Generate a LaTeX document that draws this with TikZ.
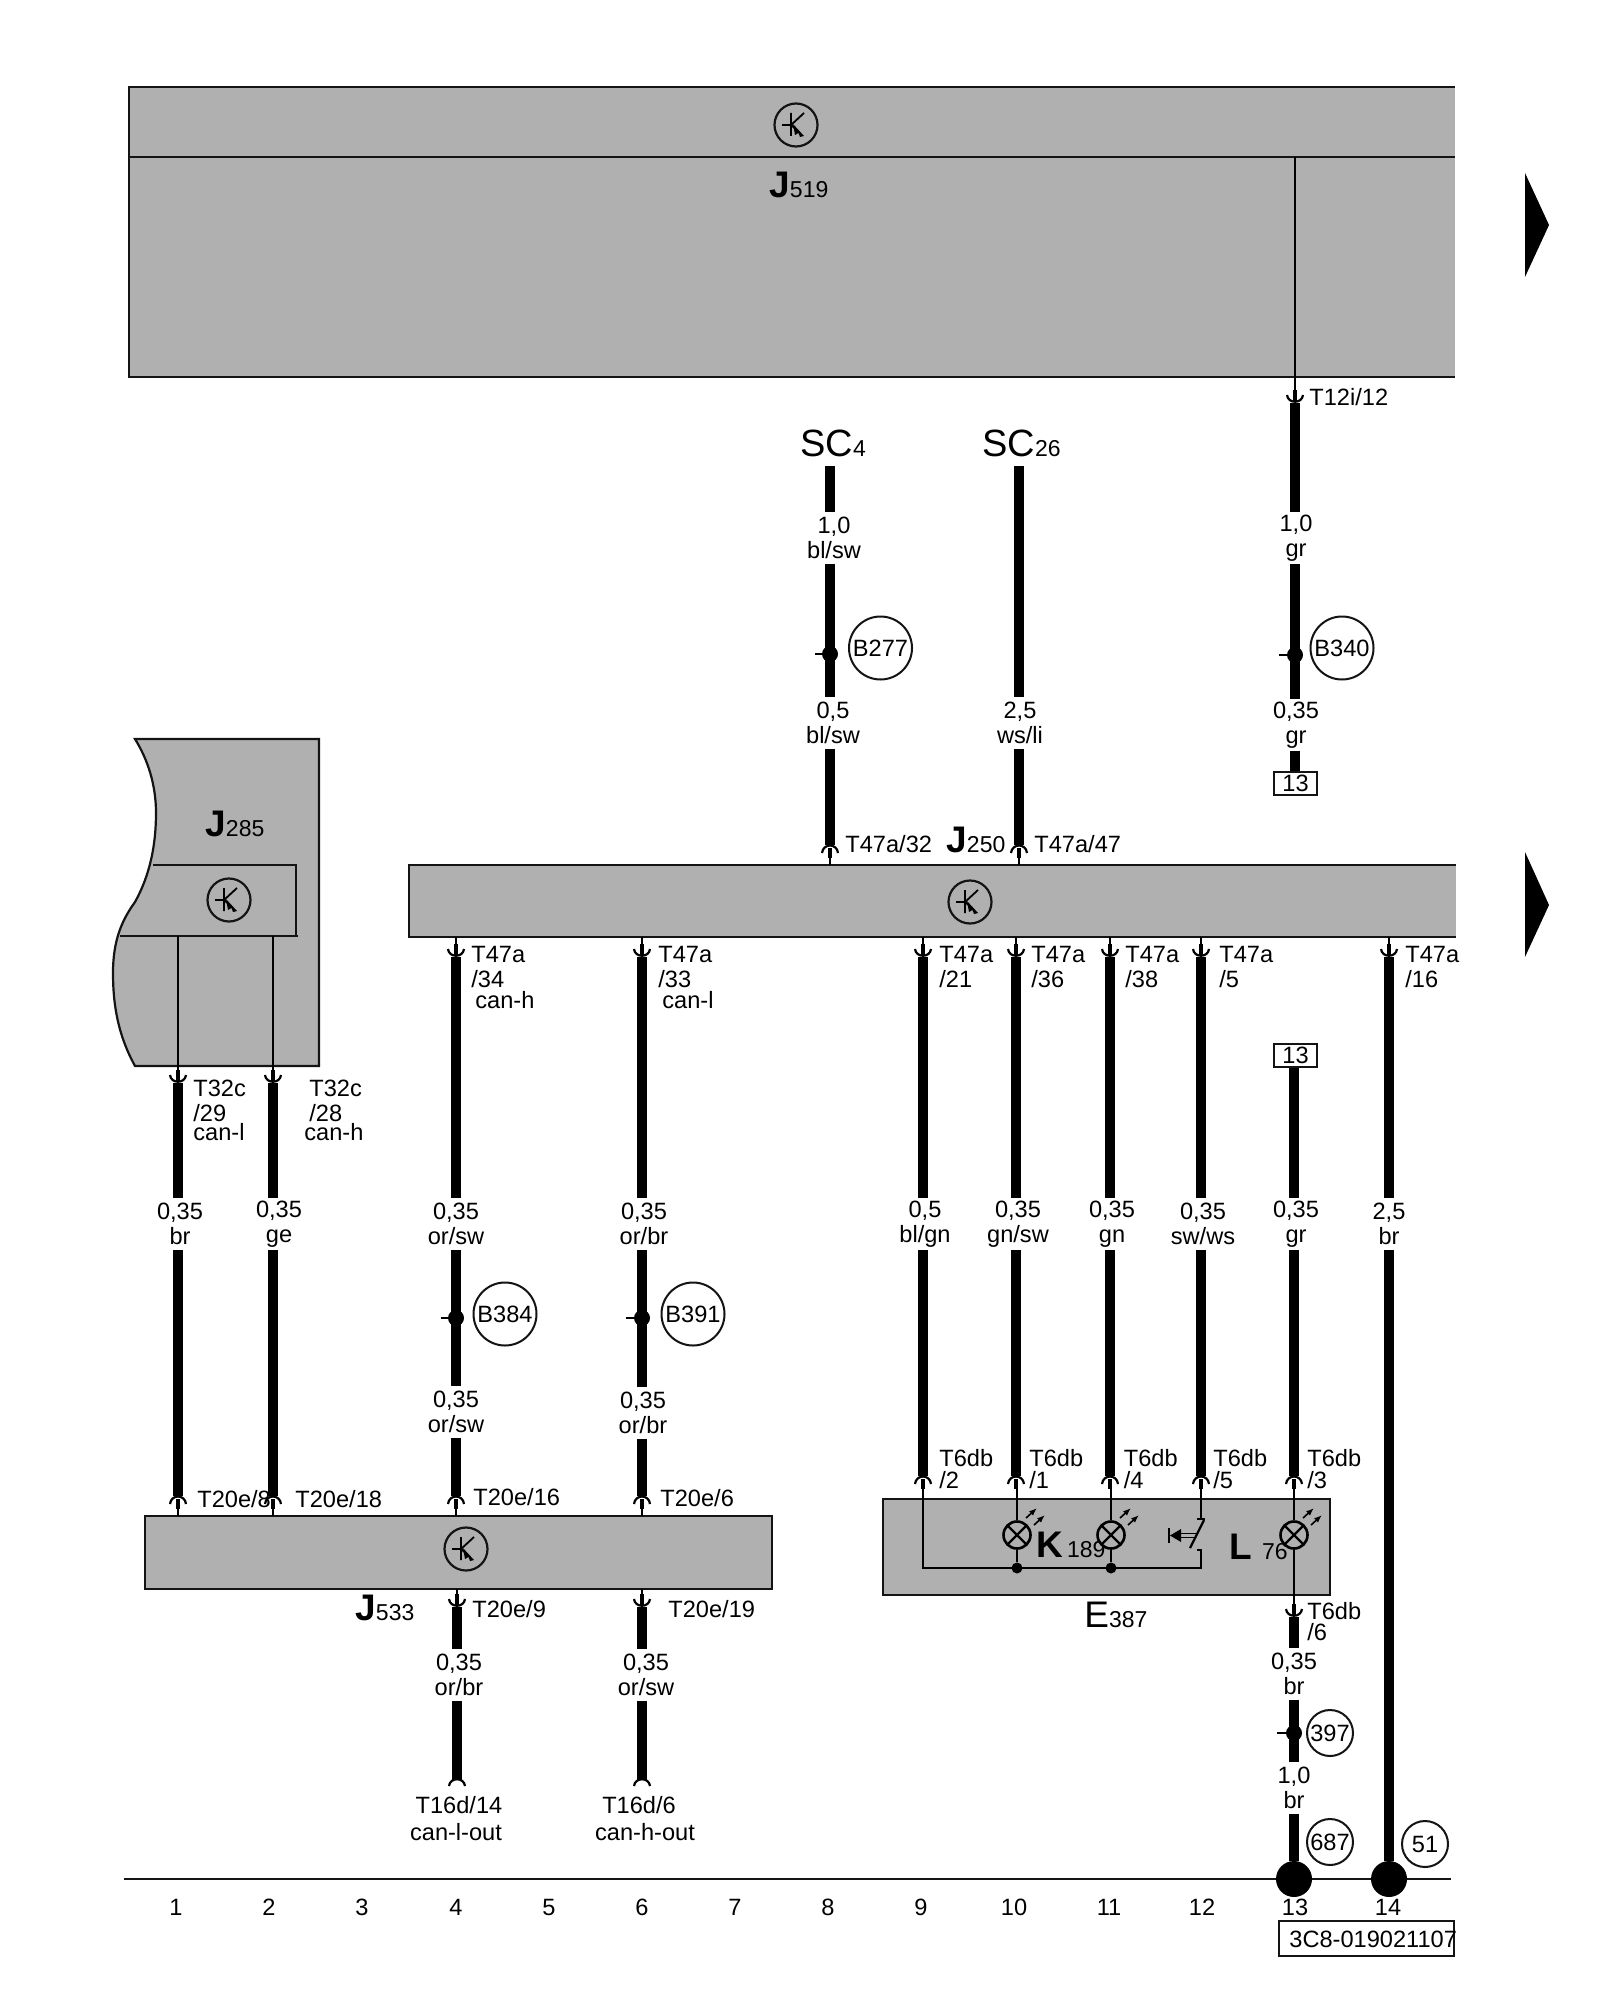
\documentclass[tikz,border=0pt]{standalone}
\usepackage{fontspec}
\setmainfont{Liberation Sans}
\definecolor{ecu}{RGB}{176,176,176}
\definecolor{ink}{RGB}{20,20,20}
\newcommand\fsmall{\fontsize{11.8}{12.5}\selectfont}
\newcommand\fbig{\fontsize{18.5}{18.5}\selectfont}
\newcommand\fsub{\fontsize{11.5}{11.5}\selectfont}
\tikzset{
  box/.style={fill=ecu,draw=ink,line width=1.1pt},
  wirethick/.style={line width=5pt,black,line cap=butt},
  wirethin/.style={line width=1pt,black},
  stem/.style={line width=2.2pt,black},
  cup/.style={line width=1.1pt,black},
  gauge/.style={inner sep=0pt,minimum height=25.5pt,align=center,font=\fsmall},
  lbl/.style={inner sep=0pt,anchor=west,text height=8.5pt,text depth=0pt,font=\fsmall},
  mid/.style={inner sep=0pt,anchor=center,text height=8.5pt,text depth=0pt,font=\fsmall},
  part/.style={inner sep=0pt,anchor=base west},
  ref/.style={circle,draw=ink,line width=1pt,inner sep=0pt},
  pin/.style={draw=ink,line width=1pt,inner sep=0pt,minimum width=21.5pt,minimum height=11.5pt,font=\fsmall},
  dot/.style={circle,fill=black,inner sep=0pt},
}
% terminal where a wire starts below a unit: thick wire begins at (#2,#3)
\newcommand\termdown[3]{\coordinate (#1) at (#2,#3);
  \begin{scope}[shift={(#2,#3)}]
    \draw[stem] (0,-13) -- (0,-2);
    \draw[cup] (-8,-8) .. controls (-7,1) and (7,1) .. (8,-8);
  \end{scope}}
% terminal where a wire ends above a unit: thick wire ends at (#2,#3)
\newcommand\termup[3]{\coordinate (#1) at (#2,#3);
  \begin{scope}[shift={(#2,#3)}]
    \draw[stem] (0,13) -- (0,3);
    \draw[cup] (-8,8) .. controls (-7,-2) and (7,-2) .. (8,8);
  \end{scope}}
% control unit symbol
\newcommand\unitsym[3]{\node[circle,draw=ink,line width=1.1pt,minimum size=21.5pt,inner sep=0pt] (#1) at (#2,#3) {};
  \begin{scope}[shift={(#2,#3)}]
    \draw[line width=.9pt,black] (-14,0) -- (-5,0) (-5,-12) -- (-5,11) (-5,0) -- (8,-12);
    \draw[line width=.9pt,black] (-5,0) -- (3,7);
    \fill[black] (-3,-1) -- (8,11) -- (4,12) -- (2.5,8) -- (-1,10) -- cycle;
  \end{scope}}
% bulb
\newcommand\bulb[3]{\node[circle,draw=black,line width=1.3pt,fill=ecu,minimum size=13.5pt,inner sep=0pt] (#1) at (#2,#3) {};
  \begin{scope}[shift={(#2,#3)}]
    \draw[line width=1.1pt,black] (-9,-9) -- (9,9) (-9,9) -- (9,-9);
    \draw[line width=.8pt,black,-{Latex[length=4pt,width=3pt]}] (9,-17) -- (20,-27);
    \draw[line width=.8pt,black,-{Latex[length=4pt,width=3pt]}] (17,-10) -- (28,-20);
  \end{scope}}
\usetikzlibrary{arrows.meta}
\begin{document}
\begin{tikzpicture}[x=0.5pt,y=-0.5pt]
\useasboundingbox (0,0) rectangle (1600,2000);
\fill[white] (0,0) rectangle (1600,2000);

%% J519
\fill[ecu] (129,87) rectangle (1455,377);
\draw[line width=1.1pt,ink] (1455,87) -- (129,87) -- (129,377) -- (1455,377) (129,157) -- (1455,157);
\coordinate (j519low) at (1295,377);
\coordinate (j519up) at (1295,157);
\unitsym{u519}{796}{125}
\node[part] (n519) at (769,198) {\fbig\bfseries J\fsub\mdseries 519};

%% page-turn marks
\fill[black] (1525,173) -- (1549,225) -- (1525,277) -- cycle;
\fill[black] (1525,852) -- (1549,905) -- (1525,957) -- cycle;

%% J285
\draw[box] (135,739) -- (319,739) -- (319,1066) -- (135,1066)
  .. controls (118,1035) and (113,1005) .. (113,973)
  .. controls (113,940) and (122,920) .. (135,902)
  .. controls (150,875) and (156,845) .. (156,813)
  .. controls (156,785) and (148,760) .. (135,739) -- cycle;
\draw[line width=1.1pt,ink] (153,865) -- (296,865) -- (296,936) (120,936) -- (298,936);
\unitsym{u285}{229}{900}
\node[part] (n285) at (205,836) {\fbig\bfseries J\fsub\mdseries 285};
\coordinate (a1) at (178,936);
\coordinate (a2) at (273,936);
\draw[wirethin] (a1) -- (178,1070);
\draw[wirethin] (a2) -- (273,1070);

%% J250
\node[box,minimum width=0pt,inner sep=0pt] (j250) at (932.5,901) {};
\fill[ecu] (409,865) rectangle (1456,937);
\draw[line width=1.1pt,ink] (1456,865) -- (409,865) -- (409,937) -- (1456,937);
\unitsym{u250}{970}{902}
\node[part] (n250) at (946,852) {\fbig\bfseries J\fsub\mdseries 250};

%% J533
\draw[box] (145,1516) rectangle (772,1589);
\unitsym{u533}{466}{1549}
\node[part] (n533) at (355,1620) {\fbig\bfseries J\fsub\mdseries 533};

%% E387
\draw[box] (883,1499) rectangle (1330,1595);
\node[part] (n387) at (1084,1627) {\fbig E\fsub 387};
\node[part] (k189) at (1036,1557) {\fbig\bfseries K\fsub\mdseries\hspace{2pt}189};
\node[part] (l76) at (1229,1559) {\fbig\bfseries L\fsub\mdseries\hspace{5pt}76};
\coordinate (s9) at (923,1499);
\coordinate (s10) at (1017,1499);
\coordinate (s11) at (1111,1499);
\coordinate (s12) at (1201,1499);
\coordinate (s13) at (1294,1499);
\coordinate (g9) at (923,1568);
\coordinate (g12) at (1201,1568);
\node[dot,minimum size=5.5pt] (d10) at (1017,1568) {};
\node[dot,minimum size=5.5pt] (d11) at (1111,1568) {};
\bulb{b10}{1017}{1535}
\bulb{b11}{1111}{1535}
\bulb{b13}{1294}{1535}
\draw[wirethin] (923,1486) -- (s9) -- (g9) -- (g12) -- (1201,1550) -- (1197,1550);
\draw[wirethin] (1017,1486) -- (b10) (b10) -- (d10);
\draw[wirethin] (1111,1486) -- (b11) (b11) -- (d11);
\draw[wirethin] (1201,1486) -- (1201,1519) (1197,1519) -- (1205,1519);
\draw[line width=1.1pt,black] (1204,1520) -- (1190,1548);
\draw[wirethin] (1294,1486) -- (b13) (b13) -- (1294,1610);
\draw[line width=.8pt,black] (1197,1533.5) -- (1178,1533.5) (1195,1537.5) -- (1178,1537.5);
\fill[black] (1170,1535.5) -- (1181,1529) -- (1181,1542) -- cycle;
\draw[line width=1pt,black] (1169,1528) -- (1169,1543);

%% wires from J519
\draw[wirethin] (j519up) -- (j519low) -- (1295,390);
\termdown{t12}{1295}{403}
\node[lbl] (l12) at (1309,397) {T12i/12};
\node[gauge] (g13a) at (1296,538) {1,0\\gr};
\node[gauge] (g13b) at (1296,725) {0,35\\gr};
\node[pin] (p13a) at (1295.5,783) {13};
\draw[wirethick] (t12) -- (t12 |- g13a.north);
\draw[wirethick] (t12 |- g13a.south) -- (t12 |- g13b.north);
\draw[wirethick] (t12 |- g13b.south) -- (t12 |- p13a.north);
\node[dot,minimum size=8pt] (d340) at (1295,655) {};
\draw[wirethin] (1279,655) -- (d340);
\node[ref,minimum size=31.5pt,font=\fsmall] (c340) at (1342,648) {B340};

%% SC4, SC26
\node[part] (sc4) at (800,457) {\fontsize{19}{19}\selectfont SC\fsub 4};
\node[part] (sc26) at (982,457) {\fontsize{19}{19}\selectfont SC\fsub 26};
\coordinate (sc4w) at (830,466);
\coordinate (sc26w) at (1019,466);
\node[gauge] (g8a) at (834,538) {1,0\\bl/sw};
\node[gauge] (g8b) at (833,723) {0,5\\bl/sw};
\node[gauge] (g10b) at (1020,723) {2,5\\ws/li};
\termup{t8}{830}{845}
\termup{t1019}{1019}{845}
\draw[wirethick] (sc4w) -- (sc4w |- g8a.north);
\draw[wirethick] (sc4w |- g8a.south) -- (sc4w |- g8b.north);
\draw[wirethick] (sc4w |- g8b.south) -- (t8);
\draw[wirethick] (sc26w) -- (sc26w |- g10b.north);
\draw[wirethick] (sc26w |- g10b.south) -- (t1019);
\draw[wirethin] (t8) ++(0,10) -- (830,865);
\draw[wirethin] (t1019) ++(0,10) -- (1019,865);
\node[dot,minimum size=8pt] (d277) at (830,654) {};
\draw[wirethin] (815,654) -- (d277);
\node[ref,minimum size=31.5pt,font=\fsmall] (c277) at (880.5,648) {B277};
\node[lbl] (l32) at (845,844) {T47a/32};
\node[lbl] (l47) at (1034,844) {T47a/47};

%% J285 wires
\termdown{t1}{178}{1083}
\termdown{t2}{273}{1083}
\node[lbl] (l1a) at (193,1088) {T32c};
\node[lbl] (l1b) at (193,1113) {/29};
\node[lbl] (l1c) at (193,1132) {can-l};
\node[lbl] (l2a) at (309,1088) {T32c};
\node[lbl] (l2b) at (309,1113) {/28};
\node[lbl] (l2c) at (304,1132) {can-h};
\node[gauge] (g1) at (180,1224) {0,35\\br};
\node[gauge] (g2) at (279,1224) {0,35\\ge};
\termup{b1}{178}{1496}
\termup{b2}{273}{1496}
\draw[wirethick] (t1) -- (t1 |- g1.north);
\draw[wirethick] (t1 |- g1.south) -- (b1);
\draw[wirethick] (t2) -- (t2 |- g2.north);
\draw[wirethick] (t2 |- g2.south) -- (b2);
\draw[wirethin] (178,1505) -- (178,1516);
\draw[wirethin] (273,1505) -- (273,1516);
\node[lbl] (l20a) at (197,1499) {T20e/8};
\node[lbl] (l20b) at (295,1499) {T20e/18};

%% can wires J250 - J533
\termdown{t4}{456}{957}
\termdown{t6}{642}{957}
\draw[wirethin] (456,937) -- (456,945);
\draw[wirethin] (642,937) -- (642,945);
\node[lbl] (l4a) at (471,954) {T47a};
\node[lbl] (l4b) at (471,979) {/34};
\node[lbl] (l4c) at (475,1000) {can-h};
\node[lbl] (l6a) at (658,954) {T47a};
\node[lbl] (l6b) at (658,979) {/33};
\node[lbl] (l6c) at (662,1000) {can-l};
\node[gauge] (g4a) at (456,1224) {0,35\\or/sw};
\node[gauge] (g6a) at (644,1224) {0,35\\or/br};
\node[gauge] (g4b) at (456,1412) {0,35\\or/sw};
\node[gauge] (g6b) at (643,1413) {0,35\\or/br};
\termup{b4}{456}{1496}
\termup{b6}{642}{1496}
\draw[wirethick] (t4) -- (t4 |- g4a.north);
\draw[wirethick] (t4 |- g4a.south) -- (t4 |- g4b.north);
\draw[wirethick] (t4 |- g4b.south) -- (b4);
\draw[wirethick] (t6) -- (t6 |- g6a.north);
\draw[wirethick] (t6 |- g6a.south) -- (t6 |- g6b.north);
\draw[wirethick] (t6 |- g6b.south) -- (b6);
\draw[wirethin] (456,1505) -- (456,1516);
\draw[wirethin] (642,1505) -- (642,1516);
\node[dot,minimum size=8pt] (d384) at (456,1318) {};
\draw[wirethin] (441,1318) -- (d384);
\node[ref,minimum size=31.5pt,font=\fsmall] (c384) at (505,1314) {B384};
\node[dot,minimum size=8pt] (d391) at (642,1318) {};
\draw[wirethin] (626,1318) -- (d391);
\node[ref,minimum size=31.5pt,font=\fsmall] (c391) at (693,1314) {B391};
\node[lbl] (l16) at (473,1497) {T20e/16};
\node[lbl] (l6) at (660,1498) {T20e/6};

%% below J533
\termdown{t4l}{457}{1607}
\termdown{t6l}{642}{1607}
\draw[wirethin] (457,1589) -- (457,1596);
\draw[wirethin] (642,1589) -- (642,1596);
\node[lbl] (l9) at (472,1609) {T20e/9};
\node[lbl] (l19) at (668,1609) {T20e/19};
\node[gauge] (g4c) at (459,1675) {0,35\\or/br};
\node[gauge] (g6c) at (646,1675) {0,35\\or/sw};
\coordinate (e4) at (457,1780);
\coordinate (e6) at (642,1780);
\draw[wirethick] (t4l) -- (t4l |- g4c.north);
\draw[wirethick] (t4l |- g4c.south) -- (e4);
\draw[wirethick] (t6l) -- (t6l |- g6c.north);
\draw[wirethick] (t6l |- g6c.south) -- (e6);
\draw[cup] (449,1786) .. controls (450,1777) and (464,1777) .. (465,1786);
\draw[cup] (634,1786) .. controls (635,1777) and (649,1777) .. (650,1786);
\node[mid] (o1) at (459,1805) {T16d/14};
\node[mid] (o2) at (456,1832) {can-l-out};
\node[mid] (o3) at (639,1805) {T16d/6};
\node[mid] (o4) at (645,1832) {can-h-out};

%% wires J250 - E387
\foreach \nm/\xx/\lx/\tt/\gy in {w9/923/939/21/{0,5\\bl/gn},w10/1016/1031/36/{0,35\\gn/sw},w11/1110/1125/38/{0,35\\gn},w12/1201/1219/5/{0,35\\sw/ws}}{
  \termdown{t\nm}{\xx}{957}
  \draw[wirethin] (\xx,937) -- (\xx,945);
  \node[lbl] (la\nm) at (\lx,954) {T47a};
  \node[lbl] (lb\nm) at (\lx,979) {/\tt};
  \node[gauge] (g\nm) at (\xx+2,1224) {\gy};
  \termup{b\nm}{\xx}{1476}
  \draw[wirethick] (t\nm) -- (t\nm |- g\nm.north);
  \draw[wirethick] (t\nm |- g\nm.south) -- (b\nm);
}
\foreach \nm/\lx/\tt in {a/939/2,b/1029/1,c/1123.5/4,d/1213/5,e/1307/3}{
  \node[lbl] (ta\nm) at (\lx,1458) {T6db};
  \node[lbl] (tb\nm) at (\lx,1480) {/\tt};
}

%% wire 13 lower
\node[pin] (p13b) at (1295.5,1055.5) {13};
\node[gauge] (g13c) at (1296,1224) {0,35\\gr};
\termup{b13u}{1294}{1476}
\draw[wirethick] (b13u |- p13b.south) -- (b13u |- g13c.north);
\draw[wirethick] (b13u |- g13c.south) -- (b13u);
\termdown{t13l}{1294}{1617}
\node[lbl] (l6a) at (1307,1611) {T6db};
\node[lbl] (l6b) at (1307,1632) {/6};
\node[gauge] (g13d) at (1294,1674) {0,35\\br};
\node[gauge] (g13e) at (1294,1788) {1,0\\br};
\node[dot,minimum size=18pt] (e13) at (1294,1879) {};
\draw[wirethick] (t13l) -- (t13l |- g13d.north);
\draw[wirethick] (t13l |- g13d.south) -- (t13l |- g13e.north);
\draw[wirethick] (t13l |- g13e.south) -- (e13);
\node[dot,minimum size=8pt] (d397) at (1294,1733) {};
\draw[wirethin] (1277,1733) -- (d397);
\node[ref,minimum size=23pt,font=\fsmall] (c397) at (1330,1733) {397};
\node[ref,minimum size=23pt,font=\fsmall] (c687) at (1330,1842) {687};

%% wire 14
\termdown{t14}{1389}{957}
\draw[wirethin] (1389,937) -- (1389,945);
\node[lbl] (l14a) at (1405,954) {T47a};
\node[lbl] (l14b) at (1405,979) {/16};
\node[gauge] (g14) at (1389,1224) {2,5\\br};
\node[dot,minimum size=18pt] (e14) at (1389,1879) {};
\draw[wirethick] (t14) -- (t14 |- g14.north);
\draw[wirethick] (t14 |- g14.south) -- (e14);
\node[ref,minimum size=23pt,font=\fsmall] (c51) at (1425,1844) {51};

%% earth line
\coordinate (gl) at (124,1879);
\coordinate (gr) at (1451,1879);
\draw[line width=1.1pt,ink] (gl) -- (e13) -- (e14) -- (gr);
\foreach \n/\xx in {1/176,2/269,3/362,4/456,5/549,6/642,7/735,8/828,9/921,10/1014,11/1109,12/1202,13/1295,14/1388}{
  \node[mid] (col\n) at (\xx,1907) {\n};
}
\node[draw=ink,line width=1pt,minimum width=87.5pt,minimum height=17.5pt,inner sep=0pt] (cat) at (1366.5,1938.5) {};
\node[lbl] (catt) at (1289,1938.5) {3C8-019021107};
\end{tikzpicture}
\end{document}
